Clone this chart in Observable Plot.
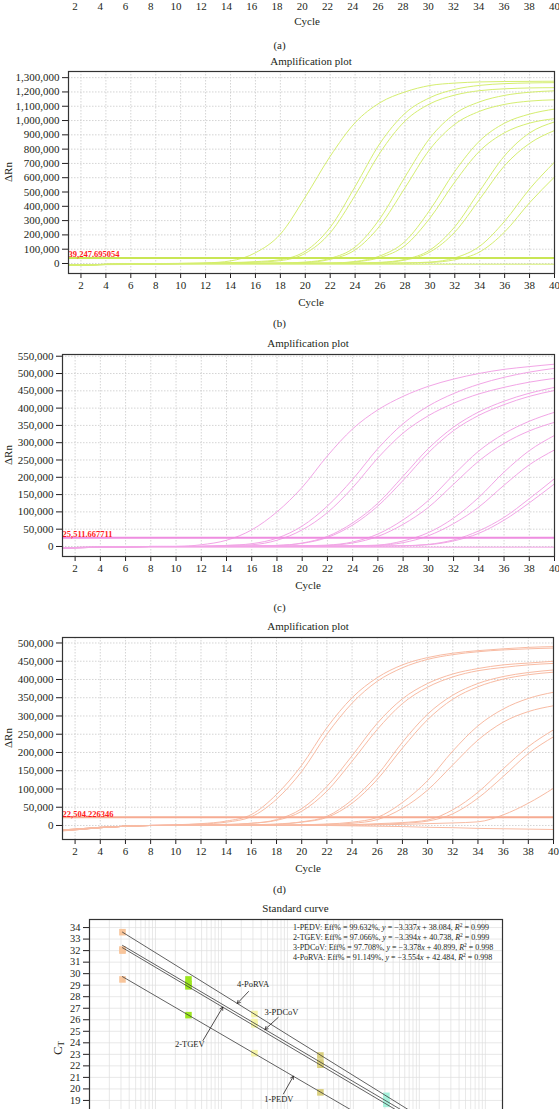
<!DOCTYPE html>
<html>
<head>
<meta charset="utf-8">
<title>Amplification plots and standard curve</title>
<script src="https://cdn.jsdelivr.net/npm/d3@7"></script>
<script src="https://cdn.jsdelivr.net/npm/@observablehq/plot@0.6"></script>
<style>
  html, body { margin: 0; padding: 0; background: #fff; }
  #figure { position: relative; width: 559px; height: 1109px; overflow: hidden; background: #fff;
            font-family: "Liberation Serif", "DejaVu Serif", serif; color: #231f20; }
  #figure svg { position: absolute; left: 0; }
  .lbl { position: absolute; white-space: nowrap; line-height: 1; font-size: 11px; transform: translate(-50%, -50%); }
  .rot { transform: translate(-50%, -50%) rotate(-90deg); }
  .eq { position: absolute; white-space: nowrap; font-size: 8px; line-height: 1; transform: translateY(-50%); }
  .eq sup { font-size: 5.5px; vertical-align: 3px; line-height: 0; }
  .ct sub { font-size: 9px; vertical-align: -2px; line-height: 0; }
</style>
</head>
<body>
<div id="figure"></div>
<script>
const FONT = '"Liberation Serif", "DejaVu Serif", serif';
const INK = "#231f20";

// ---------- Amplification plots ----------
// cycles at which each well's ΔRn is listed
const CYCLES = [1, 2, 4, 6, 8, 10, 12, 14, 16, 18, 20, 22, 24, 26, 28, 30, 32, 34, 36, 38, 40];
const CYCLE_TICKS = [2, 4, 6, 8, 10, 12, 14, 16, 18, 20, 22, 24, 26, 28, 30, 32, 34, 36, 38, 40];

// (b) ΔRn per well, in thousands
const B_WELLS = [
  [-12, -10, -6, -3, -1, 1, 4, 18, 75, 205, 465, 750, 985, 1125, 1200, 1245, 1262, 1270, 1273, 1274, 1275],
  [-12, -10, -6, -3, -1, 0, 2, 6, 13, 27, 86, 253, 538, 841, 1050, 1160, 1218, 1246, 1258, 1263, 1265],
  [-13, -11, -7, -4, -2, 0, 1, 4, 9, 20, 71, 215, 477, 775, 996, 1117, 1178, 1209, 1222, 1228, 1230],
  [-12, -10, -6, -3, -1, 0, 0, 1, 2, 3, 10, 36, 115, 315, 605, 877, 1047, 1131, 1176, 1198, 1208],
  [-13, -11, -7, -4, -2, -1, 0, 0, 1, 3, 7, 29, 95, 265, 529, 799, 974, 1065, 1113, 1136, 1145],
  [-12, -10, -6, -3, -1, 0, 0, 0, 1, 1, 2, 3, 14, 53, 154, 374, 644, 858, 982, 1045, 1080],
  [-13, -11, -7, -4, -2, -1, 0, 0, 0, 1, 1, 2, 11, 42, 125, 317, 570, 787, 915, 982, 1013],
  [-12, -10, -6, -3, -1, 0, 0, 0, 0, 1, 1, 2, 3, 8, 29, 94, 257, 508, 754, 913, 990],
  [-13, -11, -7, -4, -2, -1, 0, 0, 0, 0, 1, 1, 2, 6, 24, 80, 220, 450, 685, 840, 930],
  [-12, -10, -6, -3, -1, 0, 0, 0, 0, 0, 1, 1, 1, 2, 4, 10, 39, 121, 296, 521, 709],
  [-13, -11, -7, -4, -2, -1, 0, 0, 0, 0, 0, 1, 1, 2, 3, 7, 26, 81, 221, 425, 605],
  [-12, -10, -8, -7, -6, -5, -5, -5, -5, -5, -5, -5, -5, -5, -5, -5, -5, -5, -5, -5, -5]
];
const B_THRESHOLD = 39247.695054;
const B_TICKS = [0, 100000, 200000, 300000, 400000, 500000, 600000, 700000, 800000, 900000,
                 1000000, 1100000, 1200000, 1300000];

// (c) ΔRn per well, in thousands
const C_WELLS = [
  [-4, -3, -2, -1, 0, 0, 5, 18, 48, 100, 171, 262, 340, 395, 434, 463, 484, 500, 512, 520, 527],
  [-4, -3, -2, -1, 0, 0, 1, 3, 8, 24, 59, 117, 194, 283, 355, 406, 442, 469, 489, 504, 515],
  [-5, -4, -2, -1, 0, 0, 0, 3, 5, 18, 48, 98, 170, 256, 328, 378, 414, 441, 460, 475, 486],
  [-4, -3, -2, -1, 0, 0, 0, 1, 2, 3, 10, 29, 68, 125, 203, 283, 345, 389, 420, 443, 460],
  [-5, -4, -2, -1, 0, 0, 0, 0, 1, 3, 9, 26, 62, 117, 191, 271, 335, 379, 410, 434, 451],
  [-4, -3, -2, -1, 0, 0, 0, 0, 1, 1, 2, 4, 13, 36, 77, 133, 207, 276, 326, 362, 388],
  [-5, -4, -2, -1, 0, 0, 0, 0, 0, 1, 1, 3, 10, 29, 64, 113, 180, 247, 298, 334, 359],
  [-4, -3, -2, -1, 0, 0, 0, 0, 0, 1, 1, 1, 2, 4, 16, 40, 82, 142, 215, 277, 321],
  [-5, -4, -2, -1, 0, 0, 0, 0, 0, 0, 1, 1, 1, 3, 11, 31, 66, 114, 177, 236, 279],
  [-4, -3, -2, -1, 0, 0, 0, 0, 0, 0, 0, 1, 1, 1, 2, 6, 19, 45, 84, 138, 196],
  [-5, -4, -2, -1, 0, 0, 0, 0, 0, 0, 0, 0, 1, 1, 2, 5, 16, 38, 76, 126, 181],
  [-3, -3, -2, -2, -2, -2, -2, -2, -2, -2, -2, -2, -2, -2, -2, -2, -2, -2, -2, -2, -2]
];
const C_THRESHOLD = 25511.667711;
const C_TICKS = [0, 50000, 100000, 150000, 200000, 250000, 300000, 350000, 400000, 450000, 500000, 550000];

// (d) ΔRn per well, in thousands
const D_WELLS = [
  [-15, -12, -6, -2, 0, 2, 5, 12, 30, 85, 165, 268, 350, 405, 440, 460, 472, 479, 484, 488, 490],
  [-14, -11, -6, -2, 0, 1, 4, 9, 24, 72, 148, 250, 335, 395, 432, 455, 468, 476, 481, 484, 486],
  [-13, -11, -6, -2, 0, 1, 2, 3, 6, 16, 46, 107, 191, 280, 347, 389, 415, 430, 440, 445, 450],
  [-14, -12, -6, -2, 0, 0, 1, 2, 6, 14, 39, 94, 176, 263, 334, 379, 407, 424, 433, 440, 444],
  [-12, -10, -5, -2, 0, 0, 1, 1, 2, 4, 10, 25, 70, 138, 228, 305, 357, 389, 408, 419, 426],
  [-13, -11, -6, -2, 0, 0, 0, 1, 1, 3, 9, 22, 61, 126, 212, 290, 346, 380, 401, 413, 420],
  [-12, -10, -5, -2, 0, 0, 0, 1, 1, 1, 2, 4, 9, 22, 63, 123, 204, 273, 319, 348, 365],
  [-13, -11, -6, -2, 0, 0, 0, 0, 1, 1, 1, 3, 6, 16, 47, 97, 166, 234, 283, 312, 328],
  [-12, -10, -5, -2, 0, 0, 0, 0, 0, 1, 1, 1, 2, 5, 8, 15, 43, 91, 155, 216, 262],
  [-13, -11, -6, -2, 0, 0, 0, 0, 0, 0, 1, 1, 1, 3, 6, 12, 32, 75, 134, 197, 243],
  [-12, -10, -5, -2, 0, 0, 0, 0, 0, 0, 0, 1, 1, 2, 3, 5, 7, 10, 29, 61, 102],
  [-14, -12, -6, -2, 0, 1, 1, 1, 1, 1, 0, 0, -1, -2, -3, -5, -6, -8, -9, -10, -11]
];
const D_THRESHOLD = 22504.226346;
const D_TICKS = [0, 50000, 100000, 150000, 200000, 250000, 300000, 350000, 400000, 450000, 500000];

// ---------- Standard curve ----------
const TARGETS = ["1-PEDV", "2-TGEV", "3-PDCoV", "4-PoRVA"];
const EFF = [99.632, 97.066, 97.708, 91.149];
const SLOPE = [-3.337, -3.394, -3.378, -3.554];
const INTERCEPT = [38.084, 40.738, 40.899, 42.484];
const R2 = [0.999, 0.999, 0.998, 0.998];
// log10 quantity of each standard dilution
const STD_LOGQ = [2.5, 3.5, 4.5, 5.5, 6.5];
// measured CT, one row per target (same order as TARGETS)
const STD_CT = [
  [29.5, 26.4, 23.1, 19.7, 16.4],
  [32.0, 28.9, 25.6, 22.1, 18.7],
  [32.1, 29.1, 25.8, 22.3, 18.9],
  [33.6, 29.5, 26.5, 22.9, 19.4]
];
const FIT_RANGE = [2.5, 7.5];
const CT_TICKS = [19, 20, 21, 22, 23, 24, 25, 26, 27, 28, 29, 30, 31, 32, 33, 34];
const CT_GRID = [13, 14, 15, 16, 17, 18, 19, 20, 21, 22, 23, 24, 25, 26, 27, 28, 29, 30, 31, 32, 33, 34];

// ---------- drawing ----------
const fig = document.getElementById("figure");

function label(html, x, y, extra = {}) {
  const d = document.createElement("div");
  d.className = "lbl" + (extra.rotate ? " rot" : "") + (extra.cls ? " " + extra.cls : "");
  d.innerHTML = html;
  d.style.left = x + "px";
  d.style.top = y + "px";
  if (extra.size) d.style.fontSize = extra.size + "px";
  fig.appendChild(d);
}

function place(svg, top) {
  svg.style.top = top + "px";
  fig.appendChild(svg);
}

function wellsToRows(wells) {
  return wells.flatMap((vals, w) => vals.map((v, j) => ({well: w, cycle: CYCLES[j], dRn: v * 1000})));
}

// one amplification panel; frame = [left, right, top, bottom] in page pixels
function ampPanel({wells, threshold, ticks, yDomain, frame, line, thresholdLine}) {
  const [L, R, T, B] = frame;
  const mt = 6, mb = 36;
  const svg = Plot.plot({
    width: 559,
    height: mt + (B - T) + mb,
    marginLeft: L, marginRight: 559 - R, marginTop: mt, marginBottom: mb,
    style: {fontFamily: FONT, fontSize: "11px", color: INK, background: "transparent", overflow: "visible"},
    x: {domain: [1, 40], ticks: CYCLE_TICKS, tickSize: 5, tickPadding: 3, label: null},
    y: {domain: yDomain, ticks: ticks, tickFormat: d3.format(","), tickSize: 6, tickPadding: 3, label: null},
    marks: [
      Plot.ruleX(CYCLE_TICKS, {stroke: "#c9c9c9", strokeWidth: 0.8, strokeDasharray: "1.5,1.5"}),
      Plot.ruleY(ticks, {stroke: "#c9c9c9", strokeWidth: 0.8, strokeDasharray: "1.5,1.5"}),
      Plot.line(wellsToRows(wells), {x: "cycle", y: "dRn", z: "well", stroke: line, strokeWidth: 1, curve: "monotone-x"}),
      Plot.ruleY([threshold], {stroke: thresholdLine, strokeWidth: 2}),
      Plot.text([threshold], {x: () => 1, y: d => d, text: d => d3.format(",.6f")(d), textAnchor: "start",
        dy: -3.5, fill: "#ff1c1c", fontWeight: "bold", fontSize: 8.5}),
      Plot.frame({stroke: "#333", strokeWidth: 1.2})
    ]
  });
  place(svg, T - mt);
}

// (a) only its cycle axis remains in view
{
  const svg = Plot.plot({
    width: 559, height: 60,
    marginLeft: 62, marginRight: 5, marginTop: 10, marginBottom: 30,
    style: {fontFamily: FONT, fontSize: "11px", color: INK, background: "transparent", overflow: "visible"},
    x: {domain: [1, 40], ticks: CYCLE_TICKS, tickSize: 5, tickPadding: 3, label: null},
    marks: [
      Plot.ruleX(CYCLE_TICKS, {stroke: "#c9c9c9", strokeWidth: 0.8, strokeDasharray: "1.5,1.5"}),
      Plot.frame({stroke: "#333", strokeWidth: 1.2})
    ]
  });
  place(svg, -36);
}

ampPanel({wells: B_WELLS, threshold: B_THRESHOLD, ticks: B_TICKS, yDomain: [-70000, 1343000],
  frame: [68, 554, 71, 273], line: "#d5ee70", thresholdLine: "#c9e655"});
ampPanel({wells: C_WELLS, threshold: C_THRESHOLD, ticks: C_TICKS, yDomain: [-29000, 555000],
  frame: [62, 554, 354, 556], line: "#f2a5e6", thresholdLine: "#ee8de0"});
ampPanel({wells: D_WELLS, threshold: D_THRESHOLD, ticks: D_TICKS, yDomain: [-38400, 515000],
  frame: [62, 553, 637, 839], line: "#f8bba3", thresholdLine: "#f6ab92"});

// (e) standard curve
{
  const gridX = [];
  for (let n = 2; n <= 8; n++) for (let k = 1; k <= 9; k++) {
    const v = n + Math.log10(k);
    if (v >= 2 && v <= 8.26) gridX.push(v);
  }
  const dilutionColor = ["#f8c59b", "#9ce61f", "#f5f4a8", "#d9cf7e", "#a7f2dc"];
  const points = STD_CT.flatMap((row, t) => row.map((ct, j) => ({target: t, logQ: STD_LOGQ[j], ct, color: dilutionColor[j]})));
  const fits = TARGETS.flatMap((name, t) => FIT_RANGE.map(q => ({target: t, logQ: q, ct: SLOPE[t] * q + INTERCEPT[t]})));
  const callouts = [
    {target: 3, tx: 4.48, tct: 29.05, ax: 4.41, act: 28.45, px: 4.24},
    {target: 2, tx: 4.91, tct: 26.65, ax: 4.86, act: 26.2, px: 4.66},
    {target: 1, tx: 3.52, tct: 23.85, ax: 3.72, act: 24.2, px: 4.02},
    {target: 0, tx: 4.87, tct: 19.08, ax: 4.94, act: 19.57, px: 5.09}
  ];
  const svg = Plot.plot({
    width: 559, height: 330,
    marginLeft: 89, marginRight: 57, marginTop: 10, marginBottom: 63,
    style: {fontFamily: FONT, fontSize: "10.4px", color: INK, background: "transparent", overflow: "visible"},
    x: {domain: [2.0, 8.26], axis: null},
    y: {domain: [12.4, 34.7], ticks: CT_TICKS, tickSize: 6, tickPadding: 3, label: null},
    color: {type: "identity"},
    marks: [
      Plot.ruleX(gridX, {stroke: "#dedede", strokeWidth: 0.7}),
      Plot.ruleY(CT_GRID, {stroke: "#dedede", strokeWidth: 0.7}),
      Plot.dot(points, {x: "logQ", y: "ct", fill: "color", symbol: "square", r: 3.7}),
      Plot.line(fits, {x: "logQ", y: "ct", z: "target", stroke: "#3a3a3a", strokeWidth: 0.8}),
      Plot.arrow(callouts, {x1: "ax", y1: "act", x2: "px", y2: d => SLOPE[d.target] * d.px + INTERCEPT[d.target],
        stroke: INK, strokeWidth: 0.8, headLength: 6}),
      Plot.text(callouts, {x: "tx", y: "tct", text: d => TARGETS[d.target], fontSize: 8.5, fill: INK}),
      Plot.frame({stroke: "#333", strokeWidth: 1.2})
    ]
  });
  place(svg, 909);

  TARGETS.forEach((name, t) => {
    const d = document.createElement("div");
    d.className = "eq";
    d.innerHTML = `${name}: Eff% = ${EFF[t].toFixed(3)}%, <i>y</i> = \u2212${Math.abs(SLOPE[t]).toFixed(3)}<i>x</i> + ${INTERCEPT[t].toFixed(3)}, <i>R</i><sup>2</sup> = ${R2[t].toFixed(3)}`;
    d.style.left = "293px";
    d.style.top = (927.5 + 10 * t) + "px";
    fig.appendChild(d);
  });
}

// titles, axis names and panel letters
label("Cycle", 307, 21);
label("(a)", 279.5, 44.5);

label("Amplification plot", 311, 61);
label("\u0394Rn", 8, 172, {rotate: true});
label("Cycle", 311, 302);
label("(b)", 279.5, 322.5);

label("Amplification plot", 308, 343);
label("\u0394Rn", 8, 455, {rotate: true});
label("Cycle", 308, 585);
label("(c)", 279.5, 607);

label("Amplification plot", 308, 626);
label("\u0394Rn", 8, 738, {rotate: true});
label("Cycle", 308, 868);
label("(d)", 279.5, 889);

label("Standard curve", 295.5, 908);
label("C<sub>T</sub>", 57, 1048, {rotate: true, size: 13, cls: "ct"});
</script>
</body>
</html>
